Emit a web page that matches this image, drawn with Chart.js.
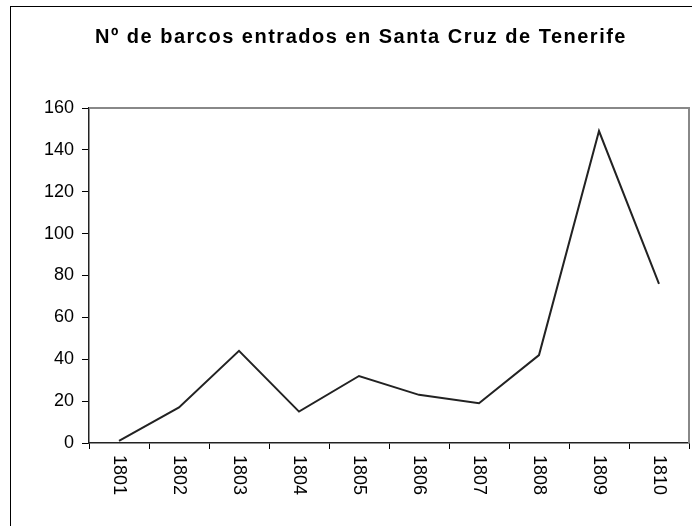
<!DOCTYPE html>
<html>
<head>
<meta charset="utf-8">
<script src="https://cdn.jsdelivr.net/npm/chart.js@4"></script>
<style>
  html, body { margin: 0; padding: 0; background: #fff; overflow: hidden; }
</style>
</head>
<body>
<canvas id="myChart" width="720" height="560"></canvas>
<script>
// data
var years = ['1801', '1802', '1803', '1804', '1805', '1806', '1807', '1808', '1809', '1810'];
var barcos = [1, 17, 44, 15, 32, 23, 19, 42, 149, 76];
var chartTitle = 'Nº de barcos entrados en Santa Cruz de Tenerife';

var FONT = 'Arial, "Liberation Sans", sans-serif';

// outer frame, title, grey top/right border of plot area, x labels turned clockwise
var framePlugin = {
  id: 'frame',
  beforeDraw: function (chart) {
    var c = chart.ctx;
    c.save();
    c.fillStyle = '#fff';
    c.fillRect(0, 0, chart.width, chart.height);
    c.strokeStyle = '#000';
    c.lineWidth = 1;
    c.strokeRect(10.5, 6.5, 800, 800);

    // title (Excel style, a bit spaced out)
    c.fillStyle = '#000';
    c.font = 'bold 20px ' + FONT;
    c.letterSpacing = '1.5px';
    c.textAlign = 'center';
    c.textBaseline = 'alphabetic';
    c.fillText(chartTitle, 361, 43);
    c.restore();
  },
  afterDraw: function (chart) {
    var c = chart.ctx, a = chart.chartArea;
    c.save();
    c.strokeStyle = '#888';
    c.lineWidth = 2;
    c.beginPath();
    c.moveTo(a.left, a.top);
    c.lineTo(a.right, a.top);
    c.lineTo(a.right, a.bottom);
    c.stroke();

    var xs = chart.scales.x;
    c.fillStyle = '#000';
    c.font = '18px ' + FONT;
    c.textAlign = 'left';
    c.textBaseline = 'middle';
    xs.ticks.forEach(function (t, i) {
      c.save();
      c.translate(xs.getPixelForTick(i), a.bottom + 12);
      c.rotate(Math.PI / 2);
      c.fillText(years[i], 0, 0);
      c.restore();
    });
    c.restore();
  }
};

var ctx = document.getElementById('myChart').getContext('2d');
var chart = new Chart(ctx, {
  type: 'line',
  data: {
    labels: years,
    datasets: [
      {
        label: 'barcos',
        data: barcos,
        fill: false,
        borderColor: '#222',
        borderWidth: 2,
        pointRadius: 0,
        tension: 0,
      }
    ]
  },
  options: {
    responsive: false,
    animation: false,
    layout: {
      padding: { left: 31, right: 31, top: 108, bottom: 0 }
    },
    plugins: {
      legend: { display: false },
      tooltip: { enabled: false },
      title: { display: false }
    },
    scales: {
      x: {
        offset: true,
        grid: {
          offset: true,
          drawOnChartArea: false,
          color: '#000',
          tickLength: 6,
        },
        border: { color: '#222', width: 1.5 },
        ticks: { color: 'rgba(0,0,0,0)', font: { family: FONT, size: 18 }, minRotation: 90, maxRotation: 90 },
        afterFit: function (s) { s.height = 117; }
      },
      y: {
        min: 0,
        max: 160,
        grid: {
          drawOnChartArea: false,
          color: '#000',
          tickLength: 7,
        },
        border: { color: '#222', width: 1.5 },
        ticks: {
          stepSize: 20,
          color: '#000',
          padding: 8,
          font: { family: FONT, size: 18 }
        },
        afterFit: function (s) { s.width = 58; }
      }
    }
  },
  plugins: [framePlugin]
});
</script>
</body>
</html>
